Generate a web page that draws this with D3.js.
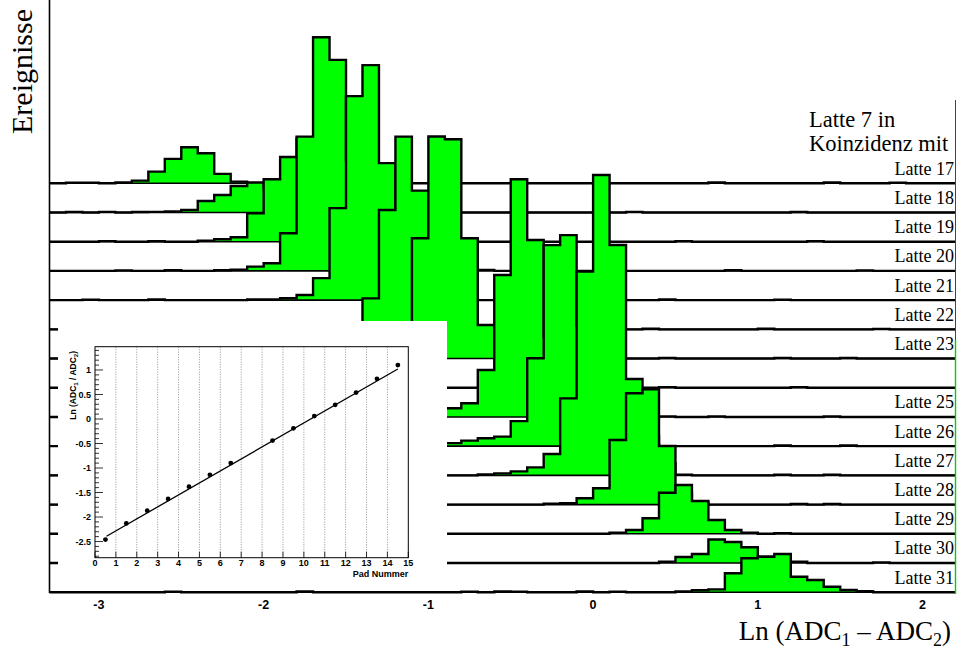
<!DOCTYPE html>
<html>
<head>
<meta charset="utf-8">
<script src="https://cdn.jsdelivr.net/npm/d3@7"></script>
<style>
  html, body { margin: 0; padding: 0; background: #fff; }
  svg { display: block; }
</style>
</head>
<body>
<svg id="chart" width="959" height="653"></svg>
<script>
// ---- data -------------------------------------------------------------
// Paddles seen in coincidence with paddle 7 (one histogram each)
const latten = [17, 18, 19, 20, 21, 22, 23, 24, 25, 26, 27, 28, 29, 30, 31];
// paddles that carry a text label on the right
const labelledLatten = [17, 18, 19, 20, 21, 22, 23, 25, 26, 27, 28, 29, 30, 31];

// binning of Ln(ADC1 - ADC2)
const binLow = -3.3;
const binWidth = 0.1;
const nBins = 55;

// events per bin, one row per paddle (bins from -3.3 to 2.2)
const counts = [
  // Latte 17
  [0,0.6,0.6,0,0.8,2.7,11.7,24.4,36,30,9.4,
   1.7,0,0,0,0,0,0,0,0,0,0,
   0,0,0,0,0,0,0,0,0,0,0,
   0,0,0,0,0,0,0,0.8,0,0,0,
   0,0,0,0.8,0,0,0,0.5,0,0,0],
  // Latte 18
  [0,0.5,0,0.6,0,0.5,0.6,1,2.5,11.5,17.5,
   26.5,30,25,14,6,2,1,0,0,0,0,
   0,0,0,0,0,0,0,0,0,0,0,
   0,0,0.6,0,0,0,0,0,0,0,0,
   0,0.5,0,0,0,0,0,0,0,0,0],
  // Latte 19
  [0,0,0,0.6,0,0,0.5,0,0,1,2.4,
   4.4,28.4,62.4,84.7,103,60,25,8,3,1,0,
   0,0,0,0,0,0,0,0,0,0,0,
   0,0,0,0,0,0.6,0,0,0,0,0,
   0,0,0.6,0,0,0,0,0,0,0,0],
  // Latte 20
  [0,0,0,0,0.5,0,0,0.6,0,0,0.6,
   1.2,4.3,7.7,37.7,134.3,233.7,211,110,40,12,4,
   1.5,0,0,0,1,0,0,0,0,0,0,
   0,0,0,0,0,0,0,0,0.6,0,0,
   0,0,0,0,0,0.5,0,0,0,0,0],
  // Latte 21
  [0,0,0.5,0,0,0,0.6,0,0,0,0,
   0,0.6,0.8,2,5.2,22,92,204,235,137,60,
   20,6,2,0,0,0,0,0,0,0,0,
   0,0,0,0,0.6,0,0,0,0,0,0,
   0.5,0,0,0,0,0,0,0,0,0,0],
  // Latte 22
  [0,0,0,0,0,0,0,0,0,0,0,
   0,0,0,0,0,0,1,5,31,119.4,192.7,
   138.7,80,40,15,2,0,0,0,0,0,0,
   0,0,0,0.6,0,0,0,0,0,0,0.6,
   0,0,0,0,0,0,0.5,0,0,0,0],
  // Latte 23
  [0,0,0,0,0,0,0,0,0,0,0,
   0,0,0,0,0,0,0,0,0,4,20,
   120.3,222,219.3,120.3,33.6,4,1,0,0,0,0,
   0,0,0,0,0.6,0,0,0,0,0,0,
   0.6,0,0,0,0.6,0,0,0,0,0,0],
  // Latte 24
  [0,0,0,0,0,0,0,0,0,0,0,
   0,0,0,0,0,0,0,0,0,0,0,
   0,0,0,0,0,0,0,0,0,0,0,
   0,0,0,0,0.6,0,0,0,0,0,0,
   0,0.6,0,0,0,0,0,0,0,0,0],
  // Latte 25
  [0,0,0,0,0,0,0,0,0,0,0,
   0,0,0,0,0,0,0,0,0,0,0,
   1,3,8.7,13.7,47,142,237.7,177,80,25,8,
   2,0,0,0,0.6,0,0,0.6,0,0,0,
   0,0,0,0.6,0,0,0,0,0,0,0],
  // Latte 26
  [0,0,0,0,0,0,0,0,0,0,0,
   0,0,0,0,0,0,0,0,0,0,0,
   0,1,3,5.5,7.9,9.5,25,87.9,201,211,120,
   40,15,5,1.5,0,0,0,0,0,0,0,
   0.6,0,0,0,0.6,0,0,0,0,0,0],
  // Latte 27
  [0,0,0,0,0,0,0,0,0,0,0,
   0,0,0,0,0,0,0,0,0,0,0,
   0,0,0,0,1,2,4,8,21.4,77,203.7,
   300.4,230.4,96.4,40,12,0.6,0,0,0,0,0,
   0.6,0,0,0.6,0,0,0,0,0,0,0],
  // Latte 28
  [0,0,0,0,0,0,0,0,0,0,0,
   0,0,0,0,0,0,0,0,0,0,0,
   0,0,0,0,0,0,0,0,1,1.3,6.3,
   16.3,64.6,111.3,115.3,58.6,12,2,0,0,0,0,
   0,0.6,0,0.6,0,0,0,0,0,0,0],
  // Latte 29
  [0,0,0,0,0,0,0,0,0,0,0,
   0,0,0,0,0,0,0,0,0,0,0,
   0,0,0,0,0,0,0,0,0,0,0,
   0,1,3.8,15.5,41.1,48.8,32.8,13.8,3.8,1,0,
   0.6,0,0,0,0,0,0,0,0,0,0],
  // Latte 30
  [0,0,0,0,0,0,0,0,0,0,0,
   0,0,0,0,0,0,0,0,0,0,0,
   0,0,0,0,0,0,0,0,0,0,0,
   0,0,0,0,1.3,6,9,23.5,21,15.7,6.3,
   3,1.3,0,0,0,0,0.6,0,0,0,0],
  // Latte 31
  [0,0,0,0,0,0,0,0.6,0,0,0,
   0,0,0,0,0.8,0,0,0,0,0,0,
   0,0,0,0.6,0,0.8,0.6,0,0,0,0.8,
   0,0.6,0,0,0,0.8,2,2.8,18.9,33.9,35.5,
   38.2,15.5,12.2,5.5,2.2,1,0,0,0,0,0]
];

const xTicks = [-3, -2, -1, 0, 1, 2];

// inset: fitted peak position versus pad number
const padNummer = [0.5, 1.5, 2.5, 3.5, 4.5, 5.5, 6.5, 8.5, 9.5, 10.5, 11.5, 12.5, 13.5, 14.5];
const lnRatio   = [-2.46, -2.13, -1.87, -1.63, -1.38, -1.14, -0.90, -0.44, -0.19, 0.06, 0.29, 0.54, 0.82, 1.10];
const fitIntercept = -2.527;
const fitSlope = 0.2446;
const fitRange = [0.55, 14.5];
const insetXTicks = d3.range(0, 16);
const insetYTicks = [-2.5, -2, -1.5, -1, -0.5, 0, 0.5, 1];

// ---- drawing ----------------------------------------------------------
const svg = d3.select("#chart");
const serif = "'Liberation Serif', 'Times New Roman', serif";
const sans = "'Liberation Sans', Arial, Helvetica, sans-serif";

const x = d3.scaleLinear().domain([binLow, binLow + nBins * binWidth]).range([49.5, 955.5]);
const yBase = d3.scalePoint().domain(latten).range([183.3, 592.2]);
const yCount = d3.scaleLinear().domain([0, 300]).range([0, 300]);
const edges = d3.range(nBins + 1).map(i => binLow + i * binWidth);

const hists = svg.append("g");
latten.forEach((latte, k) => {
  const b = yBase(latte);
  const pts = counts[k].map((c, i) => ({ e: edges[i], c }));
  pts.push({ e: edges[nBins], c: 0 });
  const g = hists.append("g").attr("class", "latte-" + latte);
  g.append("path")
    .attr("d", d3.area().curve(d3.curveStepAfter)
      .x(d => x(d.e)).y0(b).y1(d => b - yCount(d.c))(pts))
    .attr("fill", "#00ff00");
  g.append("line")
    .attr("x1", x.range()[0]).attr("x2", x.range()[1])
    .attr("y1", b).attr("y2", b)
    .attr("stroke", "#000").attr("stroke-width", 1.6);
  g.append("path")
    .attr("d", d3.line().curve(d3.curveStepAfter)
      .x(d => x(d.e)).y(d => b - yCount(d.c))(pts))
    .attr("fill", "none").attr("stroke", "#000").attr("stroke-width", 2.4)
    .attr("stroke-linejoin", "miter");
});

// frame: left axis and right edge
svg.append("line").attr("x1", x.range()[0]).attr("x2", x.range()[0])
  .attr("y1", 0).attr("y2", 593).attr("stroke", "#000").attr("stroke-width", 1.6);
svg.append("line").attr("x1", x.range()[1]).attr("x2", x.range()[1])
  .attr("y1", 100).attr("y2", 340).attr("stroke", "#444").attr("stroke-width", 1);
svg.append("line").attr("x1", x.range()[1]).attr("x2", x.range()[1])
  .attr("y1", 340).attr("y2", 594).attr("stroke", "#00d000").attr("stroke-width", 1.4);

// x tick labels
svg.append("g").selectAll("text").data(xTicks).join("text")
  .attr("x", d => x(d)).attr("y", 609)
  .attr("text-anchor", "middle")
  .attr("font-family", sans).attr("font-weight", "bold").attr("font-size", 12.5)
  .text(d => d);

// x title
const xt = svg.append("text").attr("x", 951).attr("y", 640)
  .attr("text-anchor", "end").attr("font-family", serif).attr("font-size", 27);
xt.append("tspan").text("Ln (ADC");
xt.append("tspan").attr("font-size", 18).attr("dy", 6).text("1");
xt.append("tspan").attr("dy", -6).text(" \u2013 ADC");
xt.append("tspan").attr("font-size", 18).attr("dy", 6).text("2");
xt.append("tspan").attr("dy", -6).text(")");

// y title
svg.append("text")
  .attr("transform", "translate(32,9) rotate(-90)")
  .attr("text-anchor", "end").attr("font-family", serif).attr("font-size", 30)
  .text("Ereignisse");

// legend heading and paddle labels
const head = svg.append("text").attr("font-family", serif).attr("font-size", 22.5);
head.append("tspan").attr("x", 809).attr("y", 127).text("Latte 7 in");
head.append("tspan").attr("x", 809).attr("y", 151).text("Koinzidenz mit");

svg.append("g").selectAll("text").data(labelledLatten).join("text")
  .attr("x", 954).attr("y", d => yBase(d) - 8.5)
  .attr("text-anchor", "end").attr("font-family", serif).attr("font-size", 18)
  .text(d => "Latte " + d);

// ---- inset --------------------------------------------------------------
const inset = svg.append("g");
inset.append("rect").attr("x", 58).attr("y", 321).attr("width", 389).attr("height", 265)
  .attr("fill", "#fff");

const ix = d3.scaleLinear().domain([0, 15]).range([95, 408.3]);
const iy = d3.scaleLinear().domain([-2.83, 1.475]).range([557.7, 346.7]);

// dotted grid at each pad
inset.append("g").selectAll("line").data(insetXTicks.slice(1, -1)).join("line")
  .attr("x1", d => ix(d)).attr("x2", d => ix(d))
  .attr("y1", iy.range()[0]).attr("y2", iy.range()[1])
  .attr("stroke", "#777").attr("stroke-width", 0.8).attr("stroke-dasharray", "1,1.5");

// y axis ticks (inside the frame)
const yMinor = d3.range(-28, 15).map(v => v / 10);
inset.append("g").selectAll("line").data(yMinor).join("line")
  .attr("x1", ix(0)).attr("x2", d => ix(0) + (insetYTicks.some(t => Math.abs(t - d) < 1e-6) ? 8 : 4))
  .attr("y1", d => iy(d)).attr("y2", d => iy(d))
  .attr("stroke", "#000").attr("stroke-width", 0.8);
inset.append("g").selectAll("text").data(insetYTicks).join("text")
  .attr("x", ix(0) - 4).attr("y", d => iy(d) + 3.2)
  .attr("text-anchor", "end").attr("font-family", sans).attr("font-weight", "bold")
  .attr("font-size", 9).text(d => d);

// x axis ticks and labels
inset.append("g").selectAll("line").data(insetXTicks).join("line")
  .attr("x1", d => ix(d)).attr("x2", d => ix(d))
  .attr("y1", iy.range()[0]).attr("y2", iy.range()[0] - 6)
  .attr("stroke", "#000").attr("stroke-width", 0.8);
inset.append("g").selectAll("text").data(insetXTicks).join("text")
  .attr("x", d => ix(d)).attr("y", iy.range()[0] + 8.5)
  .attr("text-anchor", "middle").attr("font-family", sans).attr("font-weight", "bold")
  .attr("font-size", 9).text(d => d);

// frame
inset.append("rect")
  .attr("x", ix(0)).attr("y", iy.range()[1])
  .attr("width", ix(15) - ix(0)).attr("height", iy.range()[0] - iy.range()[1])
  .attr("fill", "none").attr("stroke", "#000").attr("stroke-width", 1);

// fit line
inset.append("line")
  .attr("x1", ix(fitRange[0])).attr("y1", iy(fitIntercept + fitSlope * fitRange[0]))
  .attr("x2", ix(fitRange[1])).attr("y2", iy(fitIntercept + fitSlope * fitRange[1]))
  .attr("stroke", "#000").attr("stroke-width", 1.3);

// points
inset.append("g").selectAll("circle").data(padNummer).join("circle")
  .attr("cx", d => ix(d)).attr("cy", (d, i) => iy(lnRatio[i])).attr("r", 2.4)
  .attr("fill", "#000");

// titles
inset.append("text").attr("x", ix(15)).attr("y", 577)
  .attr("text-anchor", "end").attr("font-family", sans).attr("font-weight", "bold")
  .attr("font-size", 9).text("Pad Nummer");
const iyt = inset.append("text")
  .attr("transform", "translate(76,351) rotate(-90)")
  .attr("text-anchor", "end").attr("font-family", sans).attr("font-weight", "bold")
  .attr("font-size", 8.5);
iyt.append("tspan").text("Ln (ADC");
iyt.append("tspan").attr("font-size", 6).attr("dy", 2).text("1");
iyt.append("tspan").attr("dy", -2).text(" / ADC");
iyt.append("tspan").attr("font-size", 6).attr("dy", 2).text("2");
iyt.append("tspan").attr("dy", -2).text(")");
</script>
</body>
</html>
